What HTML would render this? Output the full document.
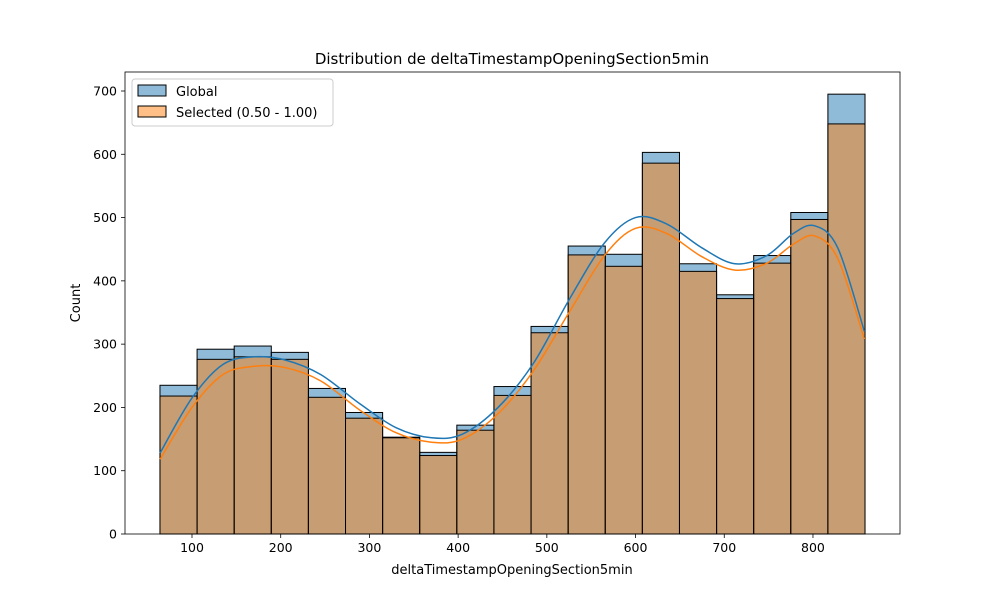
<!DOCTYPE html>
<html><head><meta charset="utf-8"><style>
body{margin:0;background:#fff;font-family:"Liberation Sans","DejaVu Sans",sans-serif;}
svg text{font-family:"DejaVu Sans","Liberation Sans",sans-serif;}
</style></head><body>
<svg id="chart" width="1000" height="600" xmlns="http://www.w3.org/2000/svg">
<rect width="1000" height="600" fill="#fff"/>
<g id="plot"></g>
</svg>
<script>
const binStart = 63.9;
const binWidth = 41.83;
const globalCounts = [235,292,297,287,230,192,153,129,172,233,328,455,442,603,427,378,440,508,695];
const selectedCounts = [218,276,280,276,216,183,152,124,164,219,318,441,423,586,415,372,428,497,648];
const kdeX = [64,100,135,170,205,245,290,330,370,405,445,485,525,565,600,635,675,712,748,778,802,828,858];
const kdeGlobal = [128,215,268,280,275,252,205,168,152,158,200,270,370,460,500,490,452,427,440,475,487,452,320];
const kdeSelected = [118,200,252,265,263,242,195,160,145,150,190,258,350,440,483,475,438,417,428,458,471,435,308];
const xTicks = [100,200,300,400,500,600,700,800];
const yTicks = [0,100,200,300,400,500,600,700];

const L=125,R=900,T=72,B=534;
const xs=v=>192+(v-100)*0.8871;
const ys=v=>534-v*(443/700);
const NS="http://www.w3.org/2000/svg";
const g=document.getElementById('plot');
function el(tag,attrs,parent){const e=document.createElementNS(NS,tag);for(const k in attrs)e.setAttribute(k,attrs[k]);(parent||g).appendChild(e);return e;}

function bars(counts,color,name){
  counts.forEach((c,i)=>{
    const x0=xs(binStart+i*binWidth),x1=xs(binStart+(i+1)*binWidth);
    const r=el('rect',{x:x0,y:ys(c),width:x1-x0,height:ys(0)-ys(c),fill:color,'fill-opacity':0.5,stroke:'#000','stroke-width':1});
    
    
  });
}
bars(globalCounts,'#1f77b4','global');
bars(selectedCounts,'#ff7f0e','selected');

function curve(xsArr,ysArr,color,name){
  const p=xsArr.map((x,i)=>[xs(x),ys(ysArr[i])]);
  let d='M'+p[0][0]+','+p[0][1];
  for(let i=0;i<p.length-1;i++){
    const p0=p[Math.max(0,i-1)],p1=p[i],p2=p[i+1],p3=p[Math.min(p.length-1,i+2)];
    const c1=[p1[0]+(p2[0]-p0[0])/6,p1[1]+(p2[1]-p0[1])/6];
    const c2=[p2[0]-(p3[0]-p1[0])/6,p2[1]-(p3[1]-p1[1])/6];
    d+=` C${c1[0]},${c1[1]} ${c2[0]},${c2[1]} ${p2[0]},${p2[1]}`;
  }
  const path=el('path',{d:d,fill:'none',stroke:color,'stroke-width':1.5});
  
  
}
curve(kdeX,kdeGlobal,'#1f77b4','kde-global');
curve(kdeX,kdeSelected,'#ff7f0e','kde-selected');

const frame=el('rect',{x:L,y:T,width:R-L,height:B-T,fill:'none',stroke:'#000','stroke-width':0.8});



xTicks.forEach(v=>{
  el('line',{x1:xs(v),x2:xs(v),y1:B,y2:B+4,stroke:'#000','stroke-width':0.8});
  const t=el('text',{x:xs(v),y:B+18,'text-anchor':'middle','font-size':12.5});
  t.textContent=v;
  
  
});
yTicks.forEach(v=>{
  el('line',{x1:L-4,x2:L,y1:ys(v),y2:ys(v),stroke:'#000','stroke-width':0.8});
  const t=el('text',{x:L-8,y:ys(v)+4.5,'text-anchor':'end','font-size':12.5});
  t.textContent=v;
  
  
});
let t=el('text',{x:512,y:574,'text-anchor':'middle','font-size':13});
t.textContent='deltaTimestampOpeningSection5min';


t=el('text',{x:80,y:303,'text-anchor':'middle','font-size':13,transform:'rotate(-90 80 303)'});
t.textContent='Count';


t=el('text',{x:512,y:64,'text-anchor':'middle','font-size':15});
t.textContent='Distribution de deltaTimestampOpeningSection5min';



const lg=el('g',{});


el('rect',{x:132,y:79,width:201,height:47,rx:3,fill:'#fff','fill-opacity':0.8,stroke:'#ccc'},lg);
el('rect',{x:138,y:85,width:28,height:11,fill:'#1f77b4','fill-opacity':0.5,stroke:'#000'},lg);
el('rect',{x:138,y:106,width:28,height:11,fill:'#ff7f0e','fill-opacity':0.5,stroke:'#000'},lg);
t=el('text',{x:176,y:96,'font-size':13},lg);t.textContent='Global';


t=el('text',{x:176,y:117,'font-size':13},lg);t.textContent='Selected (0.50 - 1.00)';


</script>
</body></html>
